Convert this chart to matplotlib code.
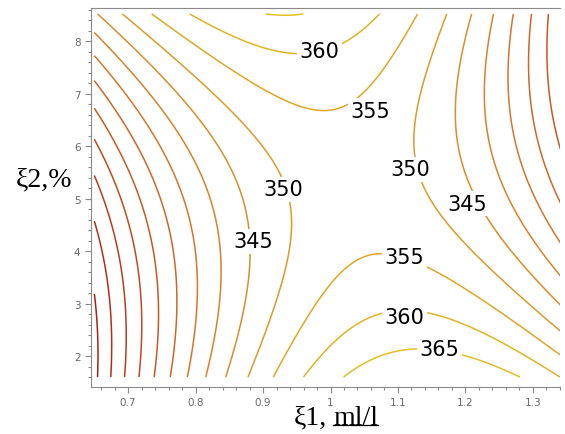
import numpy as np
import matplotlib
matplotlib.use("Agg")
import matplotlib.pyplot as plt
from matplotlib.colors import LinearSegmentedColormap
from matplotlib.ticker import MultipleLocator

# regression surface y = b0 + b1*x1 + b2*x2 + b11*x1^2 + b22*x2^2 + b12*x1*x2
b0, b1, b2 = 8.1364, 631.2610, 6.9933
b11, b22, b12 = -262.9382, 0.9520, -16.5682

x1_range = [0.65, 1.345]
x2_range = [1.6, 8.52]
levels = list(range(300, 371, 5))

xticks = [0.7, 0.8, 0.9, 1.0, 1.1, 1.2, 1.3]
xticklabels = ["0.7", "0.8", "0.9", "1", "1.1", "1.2", "1.3"]
yticks = [2, 3, 4, 5, 6, 7, 8]

# contour labels as in the original (value, x1, x2)
label_vals = [360, 355, 350, 345, 350, 345, 355, 360, 365]
label_x1 = [0.984, 1.059, 0.930, 0.885, 1.118, 1.202, 1.110, 1.110, 1.162]
label_x2 = [7.81, 6.67, 5.18, 4.19, 5.56, 4.90, 3.89, 2.74, 2.13]

x1 = np.linspace(x1_range[0], x1_range[1], 300)
x2 = np.linspace(x2_range[0], x2_range[1], 300)
X1, X2 = np.meshgrid(x1, x2)
Z = b0 + b1*X1 + b2*X2 + b11*X1**2 + b22*X2**2 + b12*X1*X2

fig = plt.figure(figsize=(5.65, 4.35), dpi=100)
ax = fig.add_axes([0.161, 0.108, 0.830, 0.871])

cmap = LinearSegmentedColormap.from_list("maple", ["#a01410", "#d8742c", "#e4cc24"])
ax.contour(X1, X2, Z, levels=levels, cmap=cmap, linewidths=1.1)

for v, a, b in zip(label_vals, label_x1, label_x2):
    ax.text(a, b, str(v), fontsize=15, ha="center", va="center", zorder=5,
            bbox=dict(boxstyle="square,pad=0.12", fc="white", ec="none"))

ax.set_xlim(0.645, 1.34)
ax.set_ylim(1.41, 8.63)
ax.set_xticks(xticks)
ax.set_xticklabels(xticklabels)
ax.set_yticks(yticks)
ax.xaxis.set_minor_locator(MultipleLocator(0.02))
ax.yaxis.set_minor_locator(MultipleLocator(0.2))
ax.tick_params(which="both", colors="#8a8a8a", labelcolor="#6a6a6a", labelsize=7.5, width=0.8)
ax.tick_params(which="major", length=4)
ax.tick_params(which="minor", length=2)
ax.spines["right"].set_visible(False)
for s in ["left", "bottom", "top"]:
    ax.spines[s].set_color("#8a8a8a")

fig.text(0.078, 0.586, "ξ2,%", fontsize=20, family="Liberation Serif", ha="center", va="center")
fig.text(0.578, 0.024, "ξ1,", fontsize=20, family="Liberation Serif", ha="right", va="baseline")
t = fig.text(0.590, 0.024, "ml/l", fontsize=20, family="Liberation Serif", ha="left", va="baseline")
fig.canvas.draw()
bb = t.get_window_extent().transformed(fig.transFigure.inverted())
fig.add_artist(plt.Line2D([bb.x0, bb.x1], [0.021, 0.021], color="k", lw=0.9))

fig.savefig("out.png")
